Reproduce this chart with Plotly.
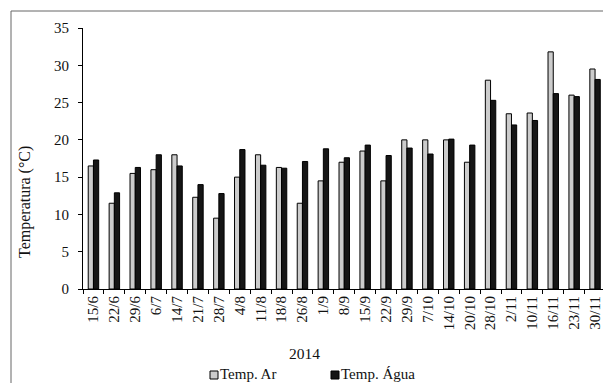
import plotly.graph_objects as go

dates = ["15/6", "22/6", "29/6", "6/7", "14/7", "21/7", "28/7", "4/8", "11/8", "18/8",
         "26/8", "1/9", "8/9", "15/9", "22/9", "29/9", "7/10", "14/10", "20/10", "28/10",
         "2/11", "10/11", "16/11", "23/11", "30/11"]
temp_ar = [16.5, 11.5, 15.5, 16.0, 18.0, 12.3, 9.5, 15.0, 18.0, 16.3,
           11.5, 14.5, 17.0, 18.5, 14.5, 20.0, 20.0, 20.0, 17.0, 28.0,
           23.5, 23.6, 31.8, 26.0, 29.5]
temp_agua = [17.3, 12.9, 16.3, 18.0, 16.5, 14.0, 12.8, 18.7, 16.6, 16.2,
             17.1, 18.8, 17.6, 19.3, 17.9, 18.9, 18.1, 20.1, 19.3, 25.3,
             22.0, 22.6, 26.2, 25.8, 28.1]
y_ticks = [0, 5, 10, 15, 20, 25, 30, 35]

W, H = 603, 383
L, R, T, B = 83, 0, 28, 94
PW, PH = W - L - R, H - T - B
FONT = "Liberation Serif"

def px(x):
    return (x - L) / PW

def py(y):
    return (H - B - y) / PH

fig = go.Figure()
fig.add_trace(go.Bar(x=dates, y=temp_ar, name="Temp. Ar",
                     marker=dict(color="#cccccc", line=dict(color="#000000", width=1))))
fig.add_trace(go.Bar(x=dates, y=temp_agua, name="Temp. Água",
                     marker=dict(color="#161616", line=dict(color="#000000", width=1))))

fig.update_layout(
    width=W, height=H,
    margin=dict(l=L, r=R, t=T, b=B),
    paper_bgcolor="white", plot_bgcolor="white",
    barmode="group", bargap=0.5, bargroupgap=0,
    showlegend=False,
    font=dict(family=FONT, size=15, color="#111111"),
    xaxis=dict(type="category", range=[-0.5, 24.38], showline=True, linecolor="black",
               linewidth=1, ticks="outside", ticklen=4, tickcolor="black",
               tickson="boundaries", tickangle=-90, showgrid=False, automargin=False,
               tickfont=dict(family=FONT, size=15, color="#111111")),
    yaxis=dict(range=[0, 35], tickvals=y_ticks, showline=True, linecolor="black",
               linewidth=1, ticks="outside", ticklen=4, tickcolor="black",
               showgrid=False, zeroline=False, automargin=False, ticklabelstandoff=6,
               tickfont=dict(family=FONT, size=15, color="#111111")),
)

shapes = [
    dict(type="rect", xref="paper", yref="paper", x0=px(11), x1=px(620),
         y0=py(400), y1=py(11), line=dict(color="#666666", width=1), layer="below"),
    dict(type="rect", xref="paper", yref="paper", x0=px(210), x1=px(218),
         y0=py(379), y1=py(371), fillcolor="#cccccc", line=dict(color="#000000", width=1)),
    dict(type="rect", xref="paper", yref="paper", x0=px(331), x1=px(339),
         y0=py(379), y1=py(371), fillcolor="#161616", line=dict(color="#000000", width=1)),
]
annotations = [
    dict(text="Temperatura (°C)", textangle=-90, xref="paper", yref="paper",
         x=px(25), y=py(202), xanchor="center", yanchor="middle", showarrow=False,
         font=dict(family=FONT, size=16, color="#111111")),
    dict(text="2014", xref="paper", yref="paper", x=px(304), y=py(353),
         xanchor="center", yanchor="middle", showarrow=False,
         font=dict(family=FONT, size=15.5, color="#111111")),
    dict(text="Temp. Ar", xref="paper", yref="paper", x=px(218), y=py(374),
         xanchor="left", yanchor="middle", showarrow=False,
         font=dict(family=FONT, size=15, color="#111111")),
    dict(text="Temp. Água", xref="paper", yref="paper", x=px(339), y=py(374),
         xanchor="left", yanchor="middle", showarrow=False,
         font=dict(family=FONT, size=15, color="#111111")),
]
fig.update_layout(shapes=shapes, annotations=annotations)

fig.write_html("out.html")
